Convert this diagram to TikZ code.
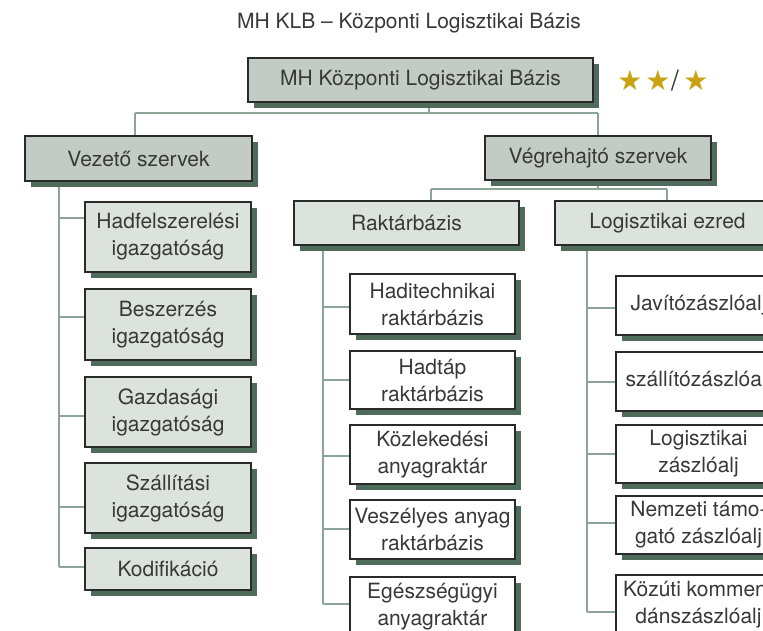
\documentclass[tikz,border=0pt]{standalone}
\usepackage{fontspec}
\setmainfont{TeX Gyre Heros}
\newfontfamily\symf{DejaVu Sans}
\usetikzlibrary{shadows,backgrounds}
\definecolor{lvA}{HTML}{C3CCC4}
\definecolor{lvB}{HTML}{DCE2DC}
\definecolor{shc}{HTML}{4E6B5C}
\definecolor{connc}{HTML}{8DA597}
\definecolor{txtc}{HTML}{383838}
\definecolor{bordc}{HTML}{2A2A2A}
\definecolor{goldc}{HTML}{C9A313}
\tikzset{
  boxbase/.style={draw=bordc, line width=1.3pt, inner sep=0pt, align=center,
    text=txtc, font=\fontsize{21}{27}\selectfont,
    drop shadow={shadow xshift=6pt, shadow yshift=-6pt, fill=shc, opacity=1}},
  bA/.style={boxbase, fill=lvA},
  bB/.style={boxbase, fill=lvB},
  bW/.style={boxbase, fill=white},
  conn/.style={draw=connc, line width=1.5pt},
  starnode/.style={text=goldc, font=\symf\fontsize{28}{28}\selectfont, inner sep=0pt}
}
\newcommand\mybox[7]{\node[#6, minimum width={(#4-#2)*1pt}, minimum height={(#5-#3)*1pt}] (#1) at ({(#2+#4)/2},{(#3+#5)/2}) {#7};}
\begin{document}
\begin{tikzpicture}[x=1pt,y=-1pt]
\useasboundingbox (0,0) rectangle (763,630);
\clip (0,0) rectangle (763,630);

\node[text=txtc, font=\fontsize{21}{25}\selectfont, inner sep=0pt] (title) at (409,23) {MH KLB – Központi Logisztikai Bázis};

\node[starnode] (s1) at (630,80) {★};
\node[starnode] (s2) at (658,80) {★};
\node[text=txtc, font=\fontsize{28}{28}\selectfont, inner sep=0pt] (sl) at (675,81) {/};
\node[starnode] (s3) at (696,80) {★};

\mybox{top}{248}{58}{593}{102}{bA}{MH Központi Logisztikai Bázis}
\mybox{vez}{25}{136}{252}{181}{bA}{Vezető szervek}
\mybox{vegr}{485}{136}{711}{180}{bA}{Végrehajtó szervek}
\mybox{rakt}{294}{201}{519}{245}{bB}{Raktárbázis}
\mybox{logi}{555}{201}{780}{245}{bB}{Logisztikai ezred}

\mybox{hadf}{85}{202}{251}{272}{bB}{Hadfelszerelési\\igazgatóság}
\mybox{besz}{85}{289}{251}{360}{bB}{Beszerzés\\igazgatóság}
\mybox{gazd}{85}{377}{251}{447}{bB}{Gazdasági\\igazgatóság}
\mybox{szall}{85}{463}{251}{533}{bB}{Szállítási\\igazgatóság}
\mybox{kodi}{85}{548}{251}{590}{bB}{Kodifikáció}

\mybox{hadit}{350}{274}{515}{334}{bW}{Haditechnikai\\raktárbázis}
\mybox{hadtap}{350}{351}{515}{409}{bW}{Hadtáp\\raktárbázis}
\mybox{kozl}{350}{425}{515}{484}{bW}{Közlekedési\\anyagraktár}
\mybox{vesz}{350}{500}{515}{559}{bW}{Veszélyes anyag\\raktárbázis}
\mybox{egesz}{350}{577}{515}{636}{bW}{Egészségügyi\\anyagraktár}

\mybox{jav}{616}{276}{781}{335}{bW}{Javítózászlóalj}
\mybox{szt}{616}{352}{781}{411}{bW}{szállítózászlóalj}
\mybox{lzj}{616}{425}{781}{483}{bW}{Logisztikai\\zászlóalj}
\mybox{nem}{616}{496}{781}{554}{bW}{Nemzeti támo-\\gató zászlóalj}
\mybox{koz}{616}{575}{781}{634}{bW}{Közúti kommen-\\dánszászlóalj}

\begin{pgfonlayer}{background}
  % top level
  \coordinate (t0) at (429,113);
  \coordinate (hl) at (135,113);
  \coordinate (hr) at (598,113);
  \draw[conn] (top.south -| t0) -- (t0);
  \draw[conn] (hl) -- (hr);
  \draw[conn] (hl) -- (hl |- vez.north);
  \draw[conn] (hr) -- (hr |- vegr.north);
  % executive
  \coordinate (v0) at (598,189);
  \coordinate (vl) at (431,189);
  \coordinate (vr) at (667,189);
  \draw[conn] (vegr.south -| v0) -- (v0);
  \draw[conn] (vl) -- (vr);
  \draw[conn] (vl) -- (vl |- rakt.north);
  \draw[conn] (vr) -- (vr |- logi.north);
  % left column
  \coordinate (lend) at (59,567);
  \draw[conn] (vez.south -| lend) -- (lend);
  \foreach \n/\y in {hadf/218,besz/317,gazd/416,szall/507,kodi/567}{
    \coordinate (j\n) at (59,\y);
    \draw[conn] (j\n) -- (j\n -| \n.west);
  }
  % raktar column
  \coordinate (rend) at (323,604);
  \draw[conn] (rakt.south -| rend) -- (rend);
  \foreach \n/\y in {hadit/307,hadtap/380,kozl/456,vesz/529,egesz/604}{
    \coordinate (j\n) at (323,\y);
    \draw[conn] (j\n) -- (j\n -| \n.west);
  }
  % logisztikai column
  \coordinate (gend) at (587,612);
  \draw[conn] (logi.south -| gend) -- (gend);
  \foreach \n/\y in {jav/308,szt/382,lzj/454,nem/523,koz/612}{
    \coordinate (j\n) at (587,\y);
    \draw[conn] (j\n) -- (j\n -| \n.west);
  }
\end{pgfonlayer}
\end{tikzpicture}
\end{document}
